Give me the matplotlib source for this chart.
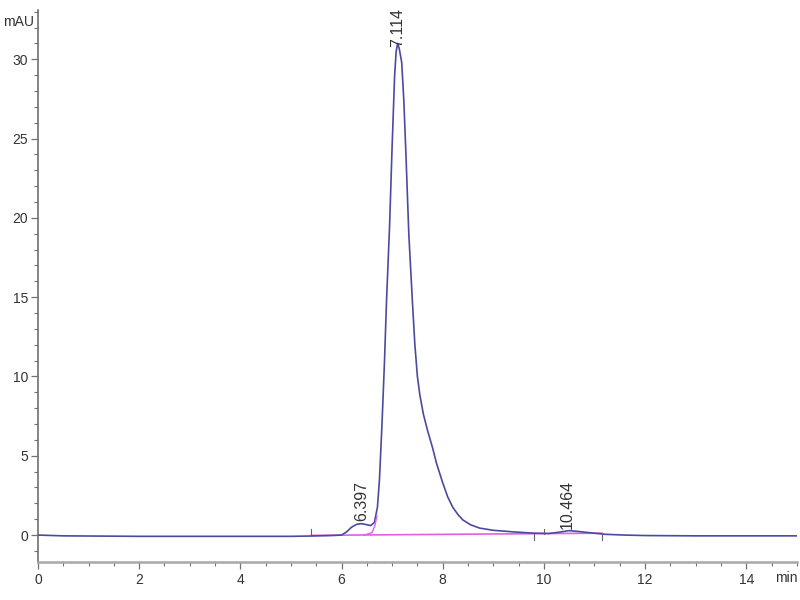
import matplotlib
matplotlib.use("Agg")
import matplotlib.pyplot as plt
from matplotlib.ticker import MultipleLocator

# ---- data ----
time_min = [0.0, 0.5, 1.0, 2.0, 3.0, 4.0, 5.0, 5.4, 5.8, 6.0, 6.1, 6.2, 6.3, 6.4,
            6.5, 6.58, 6.65, 6.71, 6.75, 6.8, 6.85, 6.89, 6.95, 7.0, 7.05, 7.08,
            7.11, 7.14, 7.19, 7.23, 7.27, 7.33, 7.40, 7.45, 7.50, 7.55, 7.62, 7.70,
            7.80, 7.88, 8.0, 8.1, 8.2, 8.3, 8.4, 8.55, 8.73, 9.0, 9.4, 9.8, 10.1,
            10.3, 10.5, 10.7, 10.9, 11.2, 11.6, 12.0, 13.0, 14.0, 15.0]
signal_mau = [0.0, -0.05, -0.06, -0.08, -0.08, -0.08, -0.08, -0.06, -0.03, 0.0,
              0.2, 0.5, 0.68, 0.72, 0.65, 0.6, 0.8, 1.76, 3.5, 7.0, 11.0, 14.8,
              19.5, 24.5, 29.0, 30.5, 31.0, 30.7, 29.8, 27.5, 24.3, 19.0, 14.8,
              12.0, 10.0, 8.8, 7.6, 6.6, 5.5, 4.5, 3.3, 2.4, 1.75, 1.3, 0.95, 0.65,
              0.44, 0.3, 0.2, 0.12, 0.1, 0.18, 0.28, 0.22, 0.15, 0.05, 0.0, -0.03,
              -0.05, -0.05, -0.05]

baseline_t = [5.4, 11.15]
baseline_v = [-0.02, 0.12]
drop_t = [6.45, 6.6, 6.66, 6.7]
drop_v = [0.0, 0.15, 0.6, 1.2]

peak_times = [6.397, 7.114, 10.464]
peak_heights = [0.9, 30.8, 0.4]
peak_labels = ["6.397", "7.114", "10.464"]

marker_t = [5.4, 9.8, 10.0, 11.15]
marker_dir = [1, -1, 1, -1]

fig = plt.figure(figsize=(8, 6), dpi=100)
ax = fig.add_axes([0.0475, 0.0633, 0.9485, 0.9197])
fam = ["Liberation Sans Narrow", "Liberation Sans", "DejaVu Sans"]

ax.plot(time_min, signal_mau, color="#4a4aa0", lw=1.2, zorder=3)
ax.plot(baseline_t, baseline_v, color="#e060e0", lw=1.2, zorder=2)
ax.plot(drop_t, drop_v, color="#e060e0", lw=1.0, zorder=4)

for t, d in zip(marker_t, marker_dir):
    ax.plot([t, t], [0.05, 0.05 + 0.35 * d], color="#606080", lw=0.8, zorder=4)

for t, h, lab in zip(peak_times, peak_heights, peak_labels):
    ax.text(t, h, lab, rotation=90, ha="center", va="bottom",
            fontsize=11.5, color="#333333", family=fam, clip_on=False)

ax.set_xlim(0, 15)
ax.set_ylim(-1.7, 33.1)
ax.xaxis.set_major_locator(MultipleLocator(2))
ax.xaxis.set_minor_locator(MultipleLocator(0.5))
ax.yaxis.set_major_locator(MultipleLocator(5))
ax.yaxis.set_minor_locator(MultipleLocator(1))

for s in ["top", "right"]:
    ax.spines[s].set_visible(False)
ax.spines["left"].set_color("#707070")
ax.spines["left"].set_linewidth(1.2)
ax.spines["bottom"].set_color("#a8a8a8")
ax.spines["bottom"].set_linewidth(1.8)

ax.tick_params(axis="both", which="major", direction="out", length=5,
               width=0.9, color="#707070", labelsize=10, labelcolor="#333333")
ax.tick_params(axis="both", which="minor", direction="out", length=3,
               width=0.8, color="#707070")
ax.tick_params(axis="y", pad=2)
ax.tick_params(axis="x", pad=3)
for lbl in ax.get_xticklabels() + ax.get_yticklabels():
    lbl.set_family(fam)

fig.text(0.004, 0.963, "mAU", fontsize=10, color="#333333", family=fam,
         ha="left", va="center")
fig.text(0.997, 0.036, "min", fontsize=10, color="#333333", family=fam,
         ha="right", va="center")

fig.savefig("out.png", dpi=100, facecolor="white")
